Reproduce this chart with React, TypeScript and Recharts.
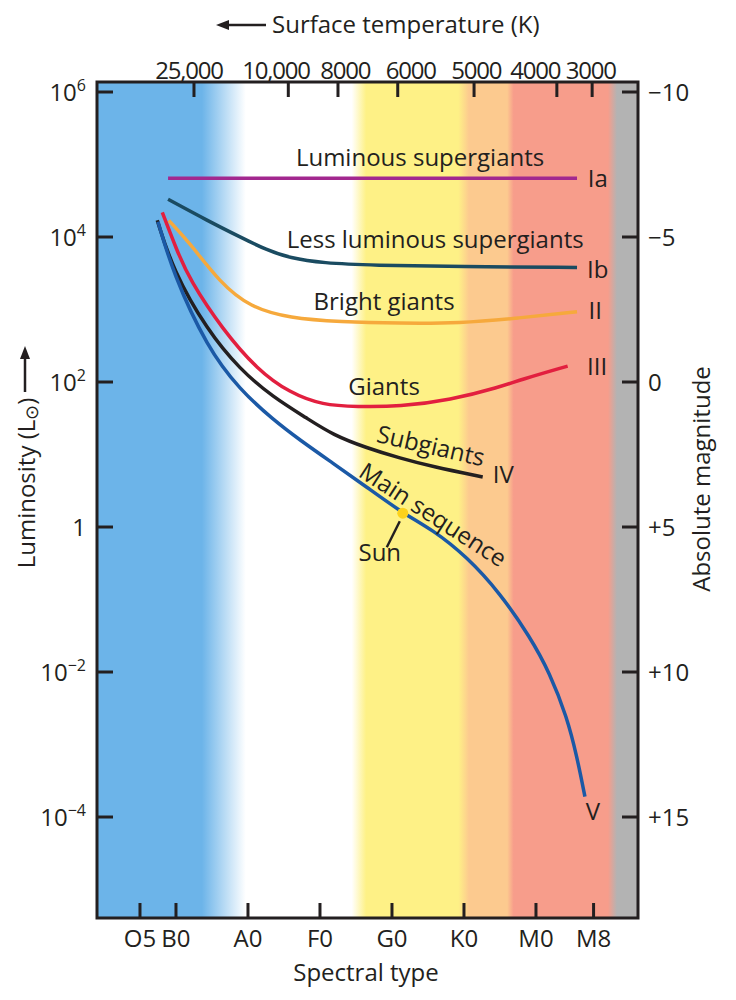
import React from 'react';
import { ComposedChart, Line, Scatter, XAxis, YAxis, ReferenceArea, Label } from 'recharts';

const INK = '#231f20';
const FONT = '"Open Sans", sans-serif';

// x = spectral index (O0 = 0, ten steps per class), y = log10 luminosity
const X_MIN = -0.97;
const X_MAX = 74.17;
const Y_MIN = -5.393;
const Y_MAX = 6.138;
const MAG_TOP = 5 - 2.5 * Y_MAX;
const MAG_BOTTOM = 5 - 2.5 * Y_MIN;

const W = 736;
const H = 1000;
const LEFT = 97;
const RIGHT = 98;
const TOP = 82;
const BOTTOM = 82;
const PX_PER_UNIT = (W - LEFT - RIGHT) / (X_MAX - X_MIN);

const specTicks = [5, 10, 20, 30, 40, 50, 60, 68];
const specLabels = ['O5', 'B0', 'A0', 'F0', 'G0', 'K0', 'M0', 'M8'];

const tempTicks = [12.5, 25.6, 32.5, 40.8, 51.4, 62.9, 67.8];
const tempLabelAt = [11.8, 23.9, 33.5, 42.6, 51.7, 59.9, 67.6];
const tempLabels = ['25,000', '10,000', '8000', '6000', '5000', '4000', '3000'];

const lumTicks = [6, 4, 2, 0, -2, -4];
const magTicks = [-10, -5, 0, 5, 10, 15];
const magLabels = ['\u221210', '\u22125', '0', '+5', '+10', '+15'];

// luminosity classes
const iaX = [8.9, 65.7];
const iaL = [4.81, 4.81];
const ibX = [8.9, 14.3, 18.9, 22.6, 25.8, 30.4, 37.4, 49.4, 65.7];
const ibL = [4.52, 4.23, 4.0, 3.82, 3.71, 3.64, 3.61, 3.59, 3.58];
const iiX = [9.0, 11.9, 16.1, 20.3, 25.8, 32.8, 41.1, 49.4, 57.5, 65.7];
const iiL = [4.23, 3.92, 3.37, 3.03, 2.88, 2.83, 2.81, 2.81, 2.88, 2.97];
const iiiX = [8.1, 10.1, 11.9, 16.5, 21.3, 25.8, 30.4, 35.1, 41.1, 48.1, 55.0, 57.8, 64.4];
const iiiL = [4.34, 3.82, 3.41, 2.72, 2.17, 1.85, 1.68, 1.66, 1.66, 1.75, 1.93, 2.03, 2.22];
const ivX = [7.4, 9.6, 14.3, 18.9, 23.5, 28.2, 31.8, 36.5, 41.1, 45.7, 52.6];
const ivL = [4.23, 3.54, 2.72, 2.17, 1.79, 1.5, 1.27, 1.09, 0.95, 0.83, 0.69];
const vX = [7.5, 9.6, 14.3, 18.9, 23.5, 27.2, 31.8, 36.5, 41.5, 45.7, 50.4, 55.0, 59.2, 61.9, 64.3, 65.7, 66.8];
const vL = [4.21, 3.5, 2.48, 1.89, 1.48, 1.2, 0.88, 0.55, 0.19, -0.04, -0.41, -0.91, -1.52, -2.01, -2.62, -3.17, -3.72];

const sunX = [41.5];
const sunL = [0.19];

// colour strip behind the plot, by spectral index
const bandAt = [X_MIN, 13.6, 19.7, 34.4, 36.4, 49.2, 50.7, 56.0, 56.9, 70.0, 71.25, X_MAX];
const bandColor = ['#6cb4e9', '#6cb4e9', '#ffffff', '#ffffff', '#fef186', '#fef186', '#fcca8f', '#fcca8f', '#f79d8b', '#f79d8b', '#b3b3b3', '#b3b3b3'];

const rows = (xs: number[], ls: number[]) => xs.map((x, i) => ({ x, l: ls[i] }));

const series = [
  { id: 'Ia', data: rows(iaX, iaL), color: '#a2288f' },
  { id: 'Ib', data: rows(ibX, ibL), color: '#1a4b61' },
  { id: 'II', data: rows(iiX, iiL), color: '#f6a93c' },
  { id: 'III', data: rows(iiiX, iiiL), color: '#e21f3f' },
  { id: 'IV', data: rows(ivX, ivL), color: '#231f20' },
  { id: 'V', data: rows(vX, vL), color: '#1b59a6' },
];

const notes = [
  { x: 43.9, l: 5.1, text: 'Luminous supergiants', anchor: 'middle', angle: 0 },
  { x: 67.2, l: 4.81, text: 'Ia', anchor: 'start', angle: 0 },
  { x: 46.0, l: 3.97, text: 'Less luminous supergiants', anchor: 'middle', angle: 0 },
  { x: 67.1, l: 3.55, text: 'Ib', anchor: 'start', angle: 0 },
  { x: 38.9, l: 3.11, text: 'Bright giants', anchor: 'middle', angle: 0 },
  { x: 67.3, l: 2.98, text: 'II', anchor: 'start', angle: 0 },
  { x: 38.9, l: 1.94, text: 'Giants', anchor: 'middle', angle: 0 },
  { x: 67.1, l: 2.22, text: 'III', anchor: 'start', angle: 0 },
  { x: 45.4, l: 1.12, text: 'Subgiants', anchor: 'middle', angle: 13 },
  { x: 54.0, l: 0.72, text: 'IV', anchor: 'start', angle: 0 },
  { x: 45.7, l: 0.17, text: 'Main sequence', anchor: 'middle', angle: 33 },
  { x: 67.9, l: -3.92, text: 'V', anchor: 'middle', angle: 0 },
];

const txt = { fill: INK, fontFamily: FONT, fontSize: 24 };

const LeftTick = (p: any) => {
  const v = p.payload.value;
  return (
    <g>
      <line x1={p.x} x2={p.x + 16} y1={p.y} y2={p.y} stroke={INK} strokeWidth={3} />
      <text x={p.x - 11} y={p.y + 8.5} textAnchor="end" {...txt}>
        {v === 0 ? '1' : (
          <>
            10<tspan dy={-10} fontSize={16}>{v < 0 ? `\u2212${-v}` : v}</tspan>
          </>
        )}
      </text>
    </g>
  );
};

const RightTick = (p: any) => {
  const i = magTicks.indexOf(p.payload.value);
  return (
    <g>
      <line x1={p.x - 16} x2={p.x} y1={p.y} y2={p.y} stroke={INK} strokeWidth={3} />
      <text x={p.x + 10} y={p.y + 8.5} textAnchor="start" {...txt}>{magLabels[i]}</text>
    </g>
  );
};

const BottomTick = (p: any) => {
  const i = specTicks.indexOf(p.payload.value);
  return (
    <g>
      <line x1={p.x} x2={p.x} y1={p.y - 15} y2={p.y} stroke={INK} strokeWidth={3} />
      <text x={p.x} y={p.y + 29} textAnchor="middle" {...txt}>{specLabels[i]}</text>
    </g>
  );
};

// temperature labels sit a little off their tick marks
const TopTick = (p: any) => {
  const i = tempTicks.indexOf(p.payload.value);
  const lx = p.x + (tempLabelAt[i] - tempTicks[i]) * PX_PER_UNIT;
  return (
    <g>
      <line x1={p.x} x2={p.x} y1={p.y} y2={p.y + 15} stroke={INK} strokeWidth={3} />
      <text x={lx} y={p.y - 3} textAnchor="middle" letterSpacing={-1.2} {...txt}>{tempLabels[i]}</text>
    </g>
  );
};

const NoteShape = (p: any) => {
  const n = p.payload;
  return (
    <text
      transform={`translate(${p.cx},${p.cy}) rotate(${n.angle})`}
      x={0}
      y={8.5}
      textAnchor={n.anchor}
      {...txt}
    >
      {n.text}
    </text>
  );
};

const SunShape = (p: any) => (
  <g>
    <line x1={p.cx - 3} y1={p.cy + 8} x2={p.cx - 16} y2={p.cy + 34} stroke={INK} strokeWidth={2.5} />
    <circle cx={p.cx} cy={p.cy} r={5.5} fill="#fcd21c" />
    <text x={p.cx - 23} y={p.cy + 48} textAnchor="middle" {...txt}>Sun</text>
  </g>
);

const SpectralTitle = () => (
  <text x={366} y={981} textAnchor="middle" {...txt}>Spectral type</text>
);

const TempTitle = () => (
  <g>
    <line x1={266} y1={25} x2={226} y2={25} stroke={INK} strokeWidth={2.5} />
    <path d="M216 25 L229 20 L229 30 Z" fill={INK} />
    <text x={272} y={33} textAnchor="start" {...txt}>Surface temperature (K)</text>
  </g>
);

const LumTitle = () => (
  <g>
    <line x1={25} y1={392} x2={25} y2={356} stroke={INK} strokeWidth={2.5} />
    <path d="M25 346 L20 359 L30 359 Z" fill={INK} />
    <text transform="translate(35,483) rotate(-90)" textAnchor="middle" {...txt}>
      Luminosity (L<tspan fontSize={18} dy={3}>{'\u2299'}</tspan><tspan dy={-3}>)</tspan>
    </text>
  </g>
);

const MagTitle = () => (
  <text transform="translate(710,479) rotate(-90)" textAnchor="middle" {...txt}>Absolute magnitude</text>
);

export default function App() {
  return (
    <div style={{ position: 'absolute', left: 0, top: 0, width: W, height: H, background: '#fff' }}>
      <ComposedChart width={W} height={H} margin={{ top: 0, right: 0, bottom: 0, left: 0 }}>
        <defs>
          <linearGradient id="bands" x1="0" y1="0" x2="1" y2="0">
            {bandAt.map((a, i) => (
              <stop key={i} offset={(a - X_MIN) / (X_MAX - X_MIN)} stopColor={bandColor[i]} />
            ))}
          </linearGradient>
        </defs>
        <ReferenceArea
          xAxisId="spec"
          yAxisId="lum"
          x1={X_MIN}
          x2={X_MAX}
          y1={Y_MIN}
          y2={Y_MAX}
          fill="url(#bands)"
          fillOpacity={1}
          stroke="none"
        />
        <XAxis
          xAxisId="spec"
          dataKey="x"
          type="number"
          orientation="bottom"
          domain={[X_MIN, X_MAX]}
          allowDataOverflow
          ticks={specTicks}
          interval={0}
          height={BOTTOM}
          axisLine={false}
          tickLine={false}
          tickSize={0}
          tickMargin={0}
          tick={<BottomTick />}
        >
          <Label content={<SpectralTitle />} />
        </XAxis>
        <XAxis
          xAxisId="temp"
          dataKey="x"
          type="number"
          orientation="top"
          domain={[X_MIN, X_MAX]}
          allowDataOverflow
          ticks={tempTicks}
          interval={0}
          height={TOP}
          axisLine={false}
          tickLine={false}
          tickSize={0}
          tickMargin={0}
          tick={<TopTick />}
        >
          <Label content={<TempTitle />} />
        </XAxis>
        <YAxis
          yAxisId="lum"
          dataKey="l"
          type="number"
          orientation="left"
          domain={[Y_MIN, Y_MAX]}
          allowDataOverflow
          ticks={lumTicks}
          interval={0}
          width={LEFT}
          axisLine={false}
          tickLine={false}
          tickSize={0}
          tickMargin={0}
          tick={<LeftTick />}
        >
          <Label content={<LumTitle />} />
        </YAxis>
        <YAxis
          yAxisId="mag"
          type="number"
          orientation="right"
          reversed
          domain={[MAG_TOP, MAG_BOTTOM]}
          allowDataOverflow
          ticks={magTicks}
          interval={0}
          width={RIGHT}
          axisLine={false}
          tickLine={false}
          tickSize={0}
          tickMargin={0}
          tick={<RightTick />}
        >
          <Label content={<MagTitle />} />
        </YAxis>
        {series.map((s) => (
          <Line
            key={s.id}
            xAxisId="spec"
            yAxisId="lum"
            data={s.data}
            dataKey="l"
            type="basis"
            stroke={s.color}
            strokeWidth={3.5}
            dot={false}
            activeDot={false}
            isAnimationActive={false}
          />
        ))}
        <Scatter
          xAxisId="temp"
          yAxisId="lum"
          data={notes}
          dataKey="l"
          shape={<NoteShape />}
          isAnimationActive={false}
        />
        <Scatter
          xAxisId="temp"
          yAxisId="lum"
          data={rows(sunX, sunL)}
          dataKey="l"
          shape={<SunShape />}
          isAnimationActive={false}
        />
        <ReferenceArea
          xAxisId="spec"
          yAxisId="lum"
          x1={X_MIN}
          x2={X_MAX}
          y1={Y_MIN}
          y2={Y_MAX}
          fill="none"
          stroke={INK}
          strokeWidth={3}
        />
      </ComposedChart>
    </div>
  );
}
